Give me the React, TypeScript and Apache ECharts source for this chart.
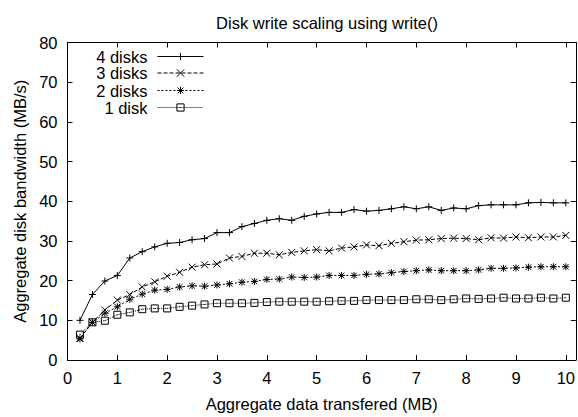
import React, { useEffect, useRef } from "react";
import * as echarts from "echarts";

const xValues = [0.25, 0.5, 0.75, 1, 1.25, 1.5, 1.75, 2, 2.25, 2.5, 2.75, 3, 3.25, 3.5, 3.75, 4, 4.25, 4.5, 4.75, 5, 5.25, 5.5, 5.75, 6, 6.25, 6.5, 6.75, 7, 7.25, 7.5, 7.75, 8, 8.25, 8.5, 8.75, 9, 9.25, 9.5, 9.75, 10];

const disks4 = [10.0, 16.5, 19.9, 21.3, 25.7, 27.3, 28.5, 29.4, 29.6, 30.3, 30.6, 32.1, 32.1, 33.6, 34.4, 35.2, 35.6, 35.2, 36.2, 36.8, 37.2, 37.2, 37.9, 37.5, 37.7, 38.1, 38.6, 38.1, 38.6, 37.7, 38.3, 38.1, 38.9, 39.1, 39.1, 39.1, 39.6, 39.7, 39.6, 39.6];
const disks3 = [5.5, 9.5, 12.6, 15.1, 16.5, 18.4, 19.7, 21.1, 22.1, 23.4, 24.0, 24.2, 25.7, 26.1, 26.9, 26.9, 26.5, 27.1, 27.5, 27.8, 27.5, 28.2, 28.5, 29.0, 28.8, 29.4, 29.8, 30.2, 30.3, 30.6, 30.7, 30.6, 30.3, 30.8, 30.7, 31.0, 30.8, 31.0, 31.0, 31.4];
const disks2 = [5.3, 9.5, 11.8, 13.4, 15.3, 16.6, 17.6, 17.8, 18.4, 18.7, 18.6, 18.9, 19.2, 19.6, 19.8, 20.3, 20.4, 20.9, 20.8, 20.9, 21.3, 21.3, 21.3, 21.6, 21.7, 22.0, 22.3, 22.5, 22.7, 22.5, 22.5, 22.5, 22.7, 23.1, 23.1, 23.2, 23.4, 23.5, 23.5, 23.5];
const disks1 = [6.4, 9.5, 9.9, 11.4, 12.0, 12.8, 13.0, 13.0, 13.4, 13.7, 14.0, 14.3, 14.3, 14.3, 14.4, 14.6, 14.7, 14.7, 14.7, 14.7, 14.8, 14.9, 14.9, 15.1, 15.1, 15.1, 15.1, 15.3, 15.3, 15.1, 15.3, 15.5, 15.4, 15.5, 15.7, 15.5, 15.5, 15.7, 15.5, 15.7];

const seriesNames = ["4 disks", "3 disks", "2 disks", "1 disk"];
const xTicks = [0, 1, 2, 3, 4, 5, 6, 7, 8, 9, 10];

const FONT = "'Liberation Sans', Arial, Helvetica, sans-serif";
const FS = 16.5;

const SYM_PLUS = "path://M0,-5L0,5M-5,0L5,0";
const SYM_CROSS = "path://M-5,-5L5,5M-5,5L5,-5";
const SYM_STAR = "path://M0,-5L0,5M-5,0L5,0M-4,-4L4,4M-4,4L4,-4";
const SYM_BOX = "path://M-5,-5L5,-5L5,5L-5,5ZM0,-0.6L0,0.6";

function pairs(ys: number[]) {
  return ys.map((y, i) => [xValues[i], y]);
}

export default function App() {
  const ref = useRef<HTMLDivElement>(null);
  useEffect(() => {
    if (!ref.current) return;
    const chart = echarts.init(ref.current, null, { renderer: "svg" });
    const mk = (name: string, ys: number[], sym: string, dash: any, size: number) => ({
      name,
      type: "line",
      data: pairs(ys),
      symbol: sym,
      symbolSize: size,
      showSymbol: true,
      lineStyle: { color: "#000", width: 1, type: dash },
      itemStyle: { color: "none", borderColor: "#000", borderWidth: 1 },
      emphasis: { disabled: true },
    });
    const legendRows = [48, 64.5, 82, 99];
    const option: any = {
      animation: false,
      backgroundColor: "#fff",
      textStyle: { fontFamily: FONT },
      title: {
        text: "Disk write scaling using write()",
        left: 322,
        textAlign: "center",
        top: 9,
        textStyle: { fontFamily: FONT, fontSize: FS, fontWeight: "normal", color: "#000" },
      },
      legend: seriesNames.map((n, i) => ({
        data: [n],
        orient: "vertical",
        right: 374,
        top: legendRows[i],
        align: "right",
        padding: 0,
        itemWidth: 46,
        itemHeight: 9,
        selectedMode: false,
        lineStyle: { width: 1 },
        itemStyle: { color: "none", borderColor: "#000", borderWidth: 1 },
        textStyle: { fontFamily: FONT, fontSize: FS, color: "#000", padding: [0, 5, 0, 0] },
      })),
      grid: { left: 67.5, right: 1.5, top: 42.5, bottom: 53, containLabel: false },
      xAxis: [
        {
          type: "value",
          min: 0,
          max: 10.2,
          interval: 1,
          name: "Aggregate data transfered (MB)",
          nameLocation: "middle",
          nameGap: 35,
          nameTextStyle: { fontFamily: FONT, fontSize: FS, color: "#000" },
          axisLine: { show: true, lineStyle: { color: "#000", width: 1 } },
          axisTick: { show: true, inside: true, length: 5, customValues: xTicks, lineStyle: { color: "#000" } },
          axisLabel: { customValues: xTicks, margin: 9, fontFamily: FONT, fontSize: FS, color: "#000" },
          splitLine: { show: false },
        },
        {
          type: "value",
          position: "top",
          min: 0,
          max: 10.2,
          interval: 1,
          axisLine: { show: true, onZero: false, lineStyle: { color: "#000", width: 1 } },
          axisTick: { show: true, inside: true, length: 5, customValues: xTicks, lineStyle: { color: "#000" } },
          axisLabel: { show: false },
          splitLine: { show: false },
        },
      ],
      yAxis: [
        {
          type: "value",
          min: 0,
          max: 80,
          interval: 10,
          name: "Aggregate disk bandwidth (MB/s)",
          nameLocation: "middle",
          nameGap: 34,
          nameTextStyle: { fontFamily: FONT, fontSize: FS, color: "#000" },
          axisLine: { show: true, lineStyle: { color: "#000", width: 1 } },
          axisTick: { show: true, inside: true, length: 5, lineStyle: { color: "#000" } },
          axisLabel: { margin: 10, fontFamily: FONT, fontSize: FS, color: "#000" },
          splitLine: { show: false },
        },
        {
          type: "value",
          position: "right",
          min: 0,
          max: 80,
          interval: 10,
          axisLine: { show: true, onZero: false, lineStyle: { color: "#000", width: 1 } },
          axisTick: { show: true, inside: true, length: 5, lineStyle: { color: "#000" } },
          axisLabel: { show: false },
          splitLine: { show: false },
        },
      ],
      series: [
        mk("4 disks", disks4, SYM_PLUS, "solid", 7),
        mk("3 disks", disks3, SYM_CROSS, [4, 2], 7),
        mk("2 disks", disks2, SYM_STAR, [2, 2], 7),
        mk("1 disk", disks1, SYM_BOX, [1, 1], 7),
      ],
    };
    chart.setOption(option);
    return () => chart.dispose();
  }, []);
  return (
    <div
      ref={ref}
      style={{ position: "fixed", left: 0, top: 0, width: 578, height: 417 }}
    />
  );
}
